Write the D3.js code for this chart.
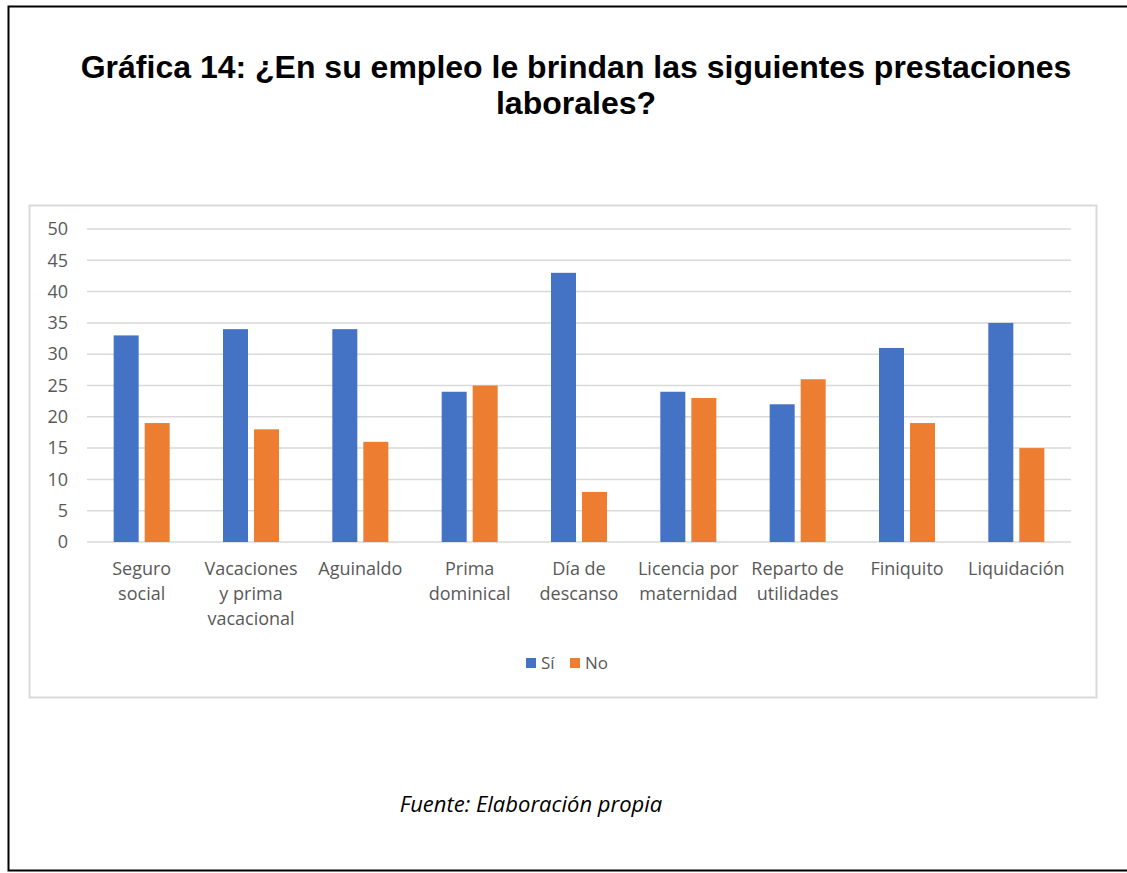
<!DOCTYPE html>
<html>
<head>
<meta charset="utf-8">
<script src="https://cdn.jsdelivr.net/npm/d3@7"></script>
<style>
  body { margin: 0; background: #fff; }
</style>
</head>
<body>
<script>
var categories = [
    ["Seguro", "social"],
    ["Vacaciones", "y prima", "vacacional"],
    ["Aguinaldo"],
    ["Prima", "dominical"],
    ["Día de", "descanso"],
    ["Licencia por", "maternidad"],
    ["Reparto de", "utilidades"],
    ["Finiquito"],
    ["Liquidación"]
];
var seriesNames = ["Sí", "No"];
var siValues = [33, 34, 34, 24, 43, 24, 22, 31, 35];
var noValues = [19, 18, 16, 25, 8, 23, 26, 19, 15];
var yTicks = [0, 5, 10, 15, 20, 25, 30, 35, 40, 45, 50];
var colors = ["#4472c4", "#ed7d31"];

//page frame
var width = 1127, height = 873;
var svg = d3.select("body").append("svg")
    .attr("width", width)
    .attr("height", height);

svg.append("rect")
    .attr("x", 8.5).attr("y", 6.5)
    .attr("width", 1130).attr("height", 864)
    .attr("fill", "none")
    .attr("stroke", "#000")
    .attr("stroke-width", 2);

//title
var title = svg.append("text")
    .attr("text-anchor", "middle")
    .style("font-family", "Arial, 'Liberation Sans', sans-serif")
    .style("font-weight", "bold")
    .style("font-size", "32px")
    .attr("fill", "#000");
title.append("tspan").attr("x", 576).attr("y", 78)
    .text("Gráfica 14: ¿En su empleo le brindan las siguientes prestaciones");
title.append("tspan").attr("x", 576).attr("y", 114)
    .text("laborales?");

//chart area border
svg.append("rect")
    .attr("x", 29.5).attr("y", 205.5)
    .attr("width", 1067).attr("height", 492)
    .attr("fill", "#fff")
    .attr("stroke", "#d9d9d9")
    .attr("stroke-width", 2);

var plotLeft = 87, plotRight = 1071, plotTop = 229, plotBottom = 542;

var x = d3.scaleBand()
    .domain(d3.range(categories.length))
    .range([plotLeft, plotRight]);

var x1 = d3.scaleBand()
    .domain(seriesNames)
    .range([0, x.bandwidth()])
    .paddingInner(0.194)
    .paddingOuter(0.86);

var y = d3.scaleLinear()
    .domain([0, 50])
    .range([plotBottom, plotTop]);

//gridlines
svg.append("g")
    .selectAll("line")
    .data(yTicks)
    .enter()
    .append("line")
    .attr("x1", plotLeft).attr("x2", plotRight)
    .attr("y1", function(d){ return y(d); })
    .attr("y2", function(d){ return y(d); })
    .attr("stroke", "#d9d9d9")
    .attr("stroke-width", 1.5);

//y axis labels
var yAxis = d3.axisLeft(y)
    .tickValues(yTicks)
    .tickSize(0)
    .tickPadding(19);
var yg = svg.append("g")
    .attr("transform", "translate(" + plotLeft + ",0)")
    .call(yAxis);
yg.select(".domain").remove();
yg.selectAll("text")
    .attr("fill", "#595959")
    .style("font-family", "'Open Sans', sans-serif")
    .style("font-size", "18px");

//bars
var rows = categories.map(function(c, i){
    return {i: i, vals: [siValues[i], noValues[i]]};
});
var groups = svg.selectAll(".cat")
    .data(rows)
    .enter()
    .append("g")
    .attr("class", "cat")
    .attr("transform", function(d){ return "translate(" + x(d.i) + ",0)"; });

groups.selectAll("rect")
    .data(function(d){
        return d.vals.map(function(v, k){ return {name: seriesNames[k], v: v, k: k}; });
    })
    .enter()
    .append("rect")
    .attr("x", function(d){ return x1(d.name); })
    .attr("width", x1.bandwidth())
    .attr("y", function(d){ return y(d.v); })
    .attr("height", function(d){ return plotBottom - y(d.v); })
    .attr("fill", function(d){ return colors[d.k]; });

//category labels
var xAxis = d3.axisBottom(x)
    .tickSize(0)
    .tickFormat("");
var xg = svg.append("g")
    .attr("transform", "translate(0," + plotBottom + ")")
    .call(xAxis);
xg.select(".domain").remove();
xg.selectAll(".tick").each(function(d){
    var t = d3.select(this).append("text")
        .attr("text-anchor", "middle")
        .attr("fill", "#595959")
        .style("font-family", "'Open Sans', sans-serif")
        .style("font-size", "18px");
    categories[d].forEach(function(line, j){
        t.append("tspan").attr("x", 0).attr("y", 33 + j * 25).text(line);
    });
});

//legend
var legend = svg.append("g")
    .attr("transform", "translate(526,663)");
var items = legend.selectAll("g")
    .data(seriesNames)
    .enter()
    .append("g")
    .attr("transform", function(d, i){ return "translate(" + (i * 44) + ",0)"; });
items.append("rect")
    .attr("x", 0).attr("y", -5)
    .attr("width", 10).attr("height", 10)
    .attr("fill", function(d, i){ return colors[i]; });
items.append("text")
    .attr("x", 15).attr("y", 6)
    .attr("fill", "#595959")
    .style("font-family", "'Open Sans', sans-serif")
    .style("font-size", "17px")
    .text(function(d){ return d; });

//source
svg.append("text")
    .attr("x", 531).attr("y", 812)
    .attr("text-anchor", "middle")
    .style("font-family", "'Open Sans', sans-serif")
    .style("font-style", "italic")
    .style("font-size", "22px")
    .attr("fill", "#000")
    .text("Fuente: Elaboración propia");
</script>
</body>
</html>
